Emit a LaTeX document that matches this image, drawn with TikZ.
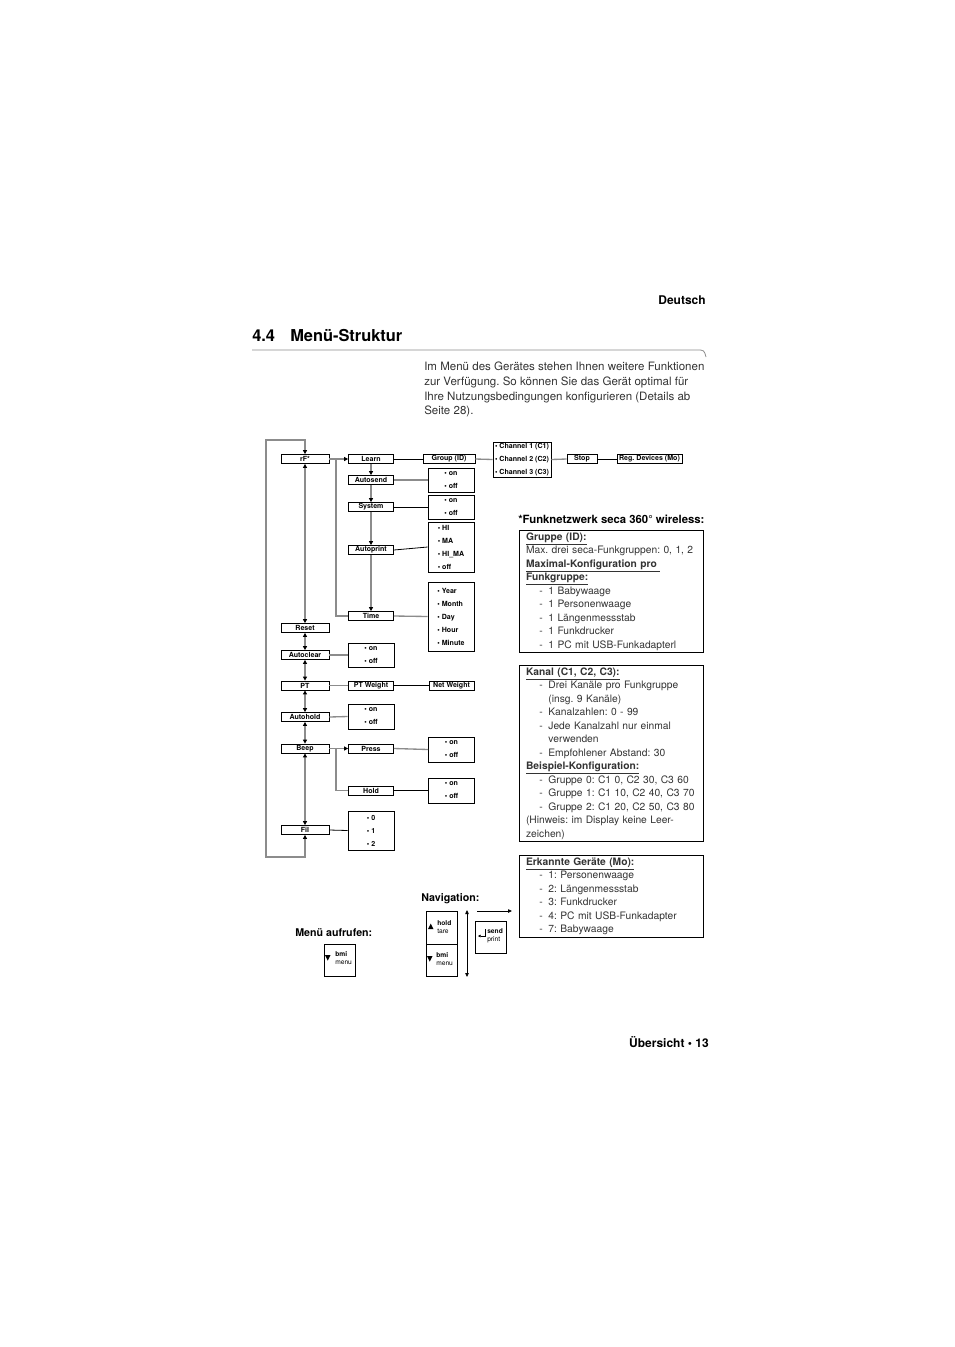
\documentclass[tikz,border=0pt]{standalone}
\usepackage{fontspec}
\setmainfont{TeX Gyre Heros}
\usepackage{tikz}
\usetikzlibrary{arrows.meta}
\definecolor{lgray}{gray}{0.55}
\definecolor{tgray}{gray}{0.2}
\newcommand\itm[1]{\hspace*{10pt}\makebox[6.75pt][l]{-}#1}
\newcommand\cnt{\hspace*{16.75pt}}
\frenchspacing

\begin{document}
\begin{tikzpicture}[x=0.75pt,y=-0.75pt,
  mbox/.style={draw,line width=0.6pt,minimum width=33.75pt,minimum height=6.75pt,inner sep=0pt,font=\fontsize{5.3}{6}\selectfont\bfseries},
  lbox/.style={mbox,minimum width=36pt},
  obox/.style={draw,line width=0.6pt,minimum width=34.5pt,inner sep=0pt,align=left,font=\fontsize{5.3}{9.75}\selectfont\bfseries},
  gline/.style={draw=lgray,line width=1pt},
  bline/.style={draw=black,line width=0.6pt},
  arr/.style={gline,-{Triangle[length=3pt,width=3pt,color=black]}},
  dblarr/.style={gline,{Triangle[length=3pt,width=3pt,color=black]}-{Triangle[length=3pt,width=3pt,color=black]}},
  info/.style={draw,line width=0.6pt,anchor=north west,text width=128pt,inner xsep=5pt,inner ysep=1pt,align=left,text=tgray,font=\fontsize{7.7}{10.125}\selectfont\frenchspacing},
  head/.style={inner sep=0pt,font=\fontsize{8.5}{10}\selectfont\bfseries},
  navbox/.style={draw,line width=0.6pt,minimum width=23.25pt,minimum height=24pt,inner sep=0pt},
  navtx/.style={inner sep=0pt,anchor=base west,font=\fontsize{5}{6}\selectfont}]
\useasboundingbox (0,0) rectangle (954,1347);

% page head
\node[head,anchor=base east,font=\fontsize{9}{10}\selectfont\bfseries] (lang) at (706,304) {Deutsch};
\node[inner sep=0pt,anchor=base west,font=\fontsize{12.3}{14}\selectfont\bfseries] (secno) at (252,341) {4.4};
\node[inner sep=0pt,anchor=base west,font=\fontsize{12.3}{14}\selectfont\bfseries] (sectitle) at (290,341) {Menü-Struktur};
\draw[lgray,line width=0.6pt] (252,350) -- (697,350) .. controls (704,350) .. (706,357);
\node[inner sep=0pt,anchor=north west,align=left,text=tgray,font=\fontsize{8.65}{11}\selectfont\frenchspacing] (intro) at (424,362)
  {Im Menü des Gerätes stehen Ihnen weitere Funktionen\\zur Verfügung. So können Sie das Gerät optimal für\\Ihre Nutzungsbedingungen konfigurieren (Details ab\\Seite 28).};

% main column
\node[lbox] (rF) at (305,459) {rF*};
\node[lbox] (reset) at (305,628) {Reset};
\node[lbox] (aclear) at (305,655) {Autoclear};
\node[lbox] (pt) at (305,685.5) {PT};
\node[lbox] (ahold) at (305,717) {Autohold};
\node[lbox] (beep) at (305,748.5) {Beep};
\node[lbox] (fil) at (305,830) {Fil};

% second column
\node[mbox] (learn) at (371,459) {Learn};
\node[mbox] (asend) at (371,480) {Autosend};
\node[mbox] (system) at (371,507) {System};
\node[mbox] (aprint) at (371,550) {Autoprint};
\node[mbox] (time) at (371,616) {Time};
\node[mbox] (ptw) at (371,685.5) {PT Weight};
\node[mbox] (press) at (371,748.5) {Press};
\node[mbox] (hold) at (371,790.5) {Hold};

% rf chain
\node[mbox,minimum width=39pt] (group) at (449,459) {Group (ID)};
\node[obox,minimum width=43.5pt,minimum height=26.25pt,font=\fontsize{5.3}{9.6}\selectfont\bfseries] (chan) at (522,459.5)
  {\textbullet\ Channel 1 (C1)\\\textbullet\ Channel 2 (C2)\\\textbullet\ Channel 3 (C3)};
\node[mbox,minimum width=22.5pt] (stop) at (582,459) {Stop};
\node[mbox,minimum width=48.75pt] (regdev) at (649.5,459) {Reg. Devices (Mo)};

% option boxes
\node[obox,minimum height=18pt] (oSend) at (451,480) {\textbullet\ on\\\textbullet\ off};
\node[obox,minimum height=18pt] (oSys) at (451,507) {\textbullet\ on\\\textbullet\ off};
\node[obox,minimum height=37.5pt] (oPrint) at (451,547) {\textbullet\ HI\\\textbullet\ MA\\\textbullet\ HI\_MA\\\textbullet\ off};
\node[obox,minimum height=51.75pt] (oTime) at (451,616.5) {\textbullet\ Year\\\textbullet\ Month\\\textbullet\ Day\\\textbullet\ Hour\\\textbullet\ Minute};
\node[obox,minimum height=18pt] (oClear) at (371,655) {\textbullet\ on\\\textbullet\ off};
\node[mbox] (netw) at (451.5,685.5) {Net Weight};
\node[obox,minimum height=18.75pt] (oAhold) at (371,716.5) {\textbullet\ on\\\textbullet\ off};
\node[obox,minimum height=18.75pt] (oPress) at (451.5,749.5) {\textbullet\ on\\\textbullet\ off};
\node[obox,minimum height=18.75pt] (oHold) at (451.5,790.5) {\textbullet\ on\\\textbullet\ off};
\node[obox,minimum height=29.25pt] (oFil) at (371,830.5) {\textbullet\ 0\\\textbullet\ 1\\\textbullet\ 2};

% connectors
\coordinate (lpT) at (266,440);\coordinate (lpB) at (266,857);
\draw[dblarr] (fil.south) |- (lpB) -- (lpT) -| (rF.north);
\foreach\a/\b in{rF/reset,reset/aclear,aclear/pt,pt/ahold,ahold/beep,beep/fil}{\draw[dblarr](\a.south)--(\b.north);};
\foreach\a/\b in{learn/asend,asend/system,system/aprint,aprint/time}{\draw[arr](\a.south)--(\b.north);};
\coordinate (jA) at (336,459);\coordinate (jB) at (336,748.5);
\draw[gline] (rF.east) -- (jA);\draw[arr] (jA) -- (learn.west);\draw[gline] (jA) |- (time.west);
\draw[gline] (beep.east) -- (jB);\draw[arr] (jB) -- (press.west);\draw[gline] (jB) |- (hold.west);
\foreach\a/\b/\s in{learn/group/bline,group/chan/gline,chan/stop/gline,stop/regdev/bline,asend/oSend/gline,system/oSys/bline,aprint/oPrint/bline,time/oTime/gline,
  aclear/oClear/gline,pt/ptw/gline,ptw/netw/bline,ahold/oAhold/gline,press/oPress/gline,hold/oHold/bline,fil/oFil/bline}{\draw[\s](\a.east)--(\b.west);};

% wireless notes
\node[head,anchor=base west] (wlhead) at (518,523) {*Funknetzwerk seca 360° wireless:};
\node[info,minimum height=91.5pt] (nGroup) at (519,530) {\textbf{\underline{Gruppe (ID):}}\\
  Max. drei seca-Funkgruppen: 0, 1, 2\\
  \textbf{\underline{Maximal-Konfiguration pro\ }}\\
  \textbf{\underline{Funkgruppe:}}\\
  \itm{1 Babywaage}\\\itm{1 Personenwaage}\\\itm{1 Längenmessstab}\\\itm{1 Funkdrucker}\\\itm{1 PC mit USB-Funkadapterl}};
\node[info,minimum height=132pt] (nChan) at (519,665) {\textbf{\underline{Kanal (C1, C2, C3):}}\\
  \itm{Drei Kanäle pro Funkgruppe}\\\cnt(insg. 9 Kanäle)\\
  \itm{Kanalzahlen: 0 - 99}\\
  \itm{Jede Kanalzahl nur einmal}\\\cnt verwenden\\
  \itm{Empfohlener Abstand: 30}\\
  \textbf{\underline{Beispiel-Konfiguration:}}\\
  \itm{Gruppe 0: C1 0, C2 30, C3 60}\\\itm{Gruppe 1: C1 10, C2 40, C3 70}\\\itm{Gruppe 2: C1 20, C2 50, C3 80}\\
  (Hinweis: im Display keine Leer-\\zeichen)};
\node[info,minimum height=61.5pt] (nDev) at (519,855) {\textbf{\underline{Erkannte Geräte (Mo):}}\\
  \itm{1: Personenwaage}\\\itm{2: Längenmessstab}\\\itm{3: Funkdrucker}\\\itm{4: PC mit USB-Funkadapter}\\\itm{7: Babywaage}};

% keys
\node[head,anchor=base west,font=\fontsize{8}{10}\selectfont\bfseries] (navlbl) at (421,901) {Navigation:};
\node[head,anchor=base west,font=\fontsize{8}{10}\selectfont\bfseries] (menulbl) at (295,936) {Menü aufrufen:};
\node[navbox] (kMenu) at (340,960) {};
\fill (325,955) -- (330.5,955) -- (327.75,960.5) -- cycle;
\node[navtx] (kMenuA) at (335,956) {\bfseries bmi};\node[navtx] (kMenuB) at (335,964) {menu};
\node[navbox,minimum height=24.75pt] (kHold) at (441.5,927.5) {};
\node[navbox] (kBmi) at (441.5,960) {};
\fill (428,929) -- (433.5,929) -- (430.75,923.5) -- cycle;
\node[navtx] (kHoldA) at (437,925) {\bfseries hold};\node[navtx] (kHoldB) at (437,933) {tare};
\fill (427,956) -- (432.5,956) -- (429.75,961.5) -- cycle;
\node[navtx] (kBmiA) at (436,957) {\bfseries bmi};\node[navtx] (kBmiB) at (436,965) {menu};
\node[navbox] (kSend) at (491,937) {};
\draw[line width=0.5pt,-{Triangle[length=2pt,width=2pt]}] (485,929) -- (485,936) -- (478,936);
\node[navtx] (kSendA) at (487,933) {\bfseries send};\node[navtx] (kSendB) at (487,941) {print};
\coordinate (vT) at (467,910);\coordinate (vB) at (467,977);\coordinate (hL) at (477,911);\coordinate (hR) at (512,911);
\draw[line width=0.6pt,{Triangle[length=3pt,width=2.6pt]}-{Triangle[length=3pt,width=2.6pt]}] (vT) -- (vB);
\draw[line width=0.6pt,-{Triangle[length=3pt,width=2.6pt]}] (hL) -- (hR);

% page foot
\node[head,anchor=base east,font=\fontsize{9}{10}\selectfont\bfseries] (foot) at (709,1047) {Übersicht • 13};
\end{tikzpicture}
\end{document}
